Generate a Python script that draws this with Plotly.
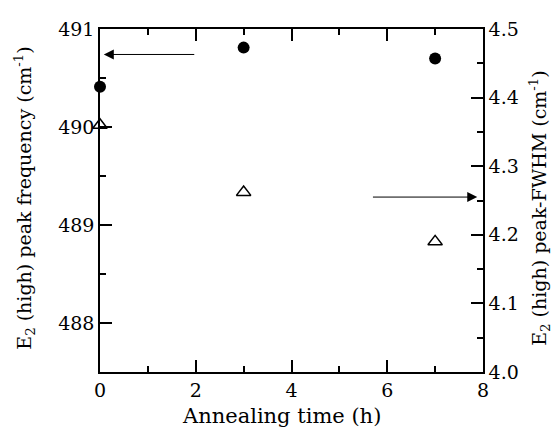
import plotly.graph_objects as go

# Data
time_h = [0, 3, 7]
peak_freq = [490.41, 490.81, 490.70]      # left axis, cm^-1
fwhm = [4.36, 4.262, 4.19]                # right axis, cm^-1

x_title = "Annealing time (h)"
y_title = "E<sub>2</sub> (high) peak frequency (cm<sup>-1</sup>)"
y2_title = "E<sub>2</sub> (high) peak-FWHM (cm<sup>-1</sup>)"

FONT = "DejaVu Serif"
TICK = dict(family=FONT, size=19, color="black")

fig = go.Figure()
fig.add_trace(go.Scatter(
    x=time_h, y=peak_freq, mode="markers",
    marker=dict(symbol="circle", size=12, color="black"),
    yaxis="y", cliponaxis=False, showlegend=False))
fig.add_trace(go.Scatter(
    x=time_h, y=fwhm, mode="markers",
    marker=dict(symbol="triangle-up-open", size=12.5, color="black",
                line=dict(width=1.5, color="black")),
    yaxis="y2", cliponaxis=False, showlegend=False))

axis_common = dict(showline=True, linecolor="black", linewidth=1.5,
                   ticks="inside", tickcolor="black", tickwidth=1.5,
                   ticklen=12, showgrid=False, zeroline=False,
                   tickfont=TICK)
minor_common = dict(ticks="inside", ticklen=6, tickcolor="black", tickwidth=1.5)

fig.update_layout(
    width=554, height=427,
    margin=dict(l=100, r=71, t=29, b=55),
    paper_bgcolor="white", plot_bgcolor="white",
    font=dict(family=FONT, color="black"),
    xaxis=dict(range=[0, 8], dtick=2, tick0=0, mirror="ticks",
               minor=dict(dtick=1, **minor_common), **axis_common),
    yaxis=dict(range=[487.5, 491], dtick=1, tick0=488,
               minor=dict(dtick=0.5, **minor_common), **axis_common),
    yaxis2=dict(range=[4.0, 4.5], dtick=0.1, tick0=4.0, tickformat=".1f",
                overlaying="y", side="right",
                minor=dict(dtick=0.05, **minor_common), **axis_common),
)

# axis titles
fig.add_annotation(text=x_title, xref="paper", yref="paper", x=0.475, y=-0.128,
                   xanchor="center", yanchor="middle", showarrow=False,
                   font=dict(family=FONT, size=21, color="black"))
fig.add_annotation(text=y_title, xref="paper", yref="paper", x=-0.196, y=0.508,
                   xanchor="center", yanchor="middle", textangle=-90, showarrow=False,
                   font=dict(family=FONT, size=19, color="black"))
fig.add_annotation(text=y2_title, xref="paper", yref="paper", x=1.149, y=0.479,
                   xanchor="center", yanchor="middle", textangle=-90, showarrow=False,
                   font=dict(family=FONT, size=19, color="black"))

# arrows pointing to the axes
fig.add_annotation(x=0.08, y=490.74, ax=2.0, ay=490.74, xref="x", yref="y",
                   axref="x", ayref="y", showarrow=True, arrowhead=2,
                   arrowsize=2, arrowwidth=1, arrowcolor="black", text="")
fig.add_annotation(x=7.88, y=4.255, ax=5.67, ay=4.255, xref="x", yref="y2",
                   axref="x", ayref="y2", showarrow=True, arrowhead=2,
                   arrowsize=2, arrowwidth=1, arrowcolor="black", text="")

fig.write_html("out.html")
